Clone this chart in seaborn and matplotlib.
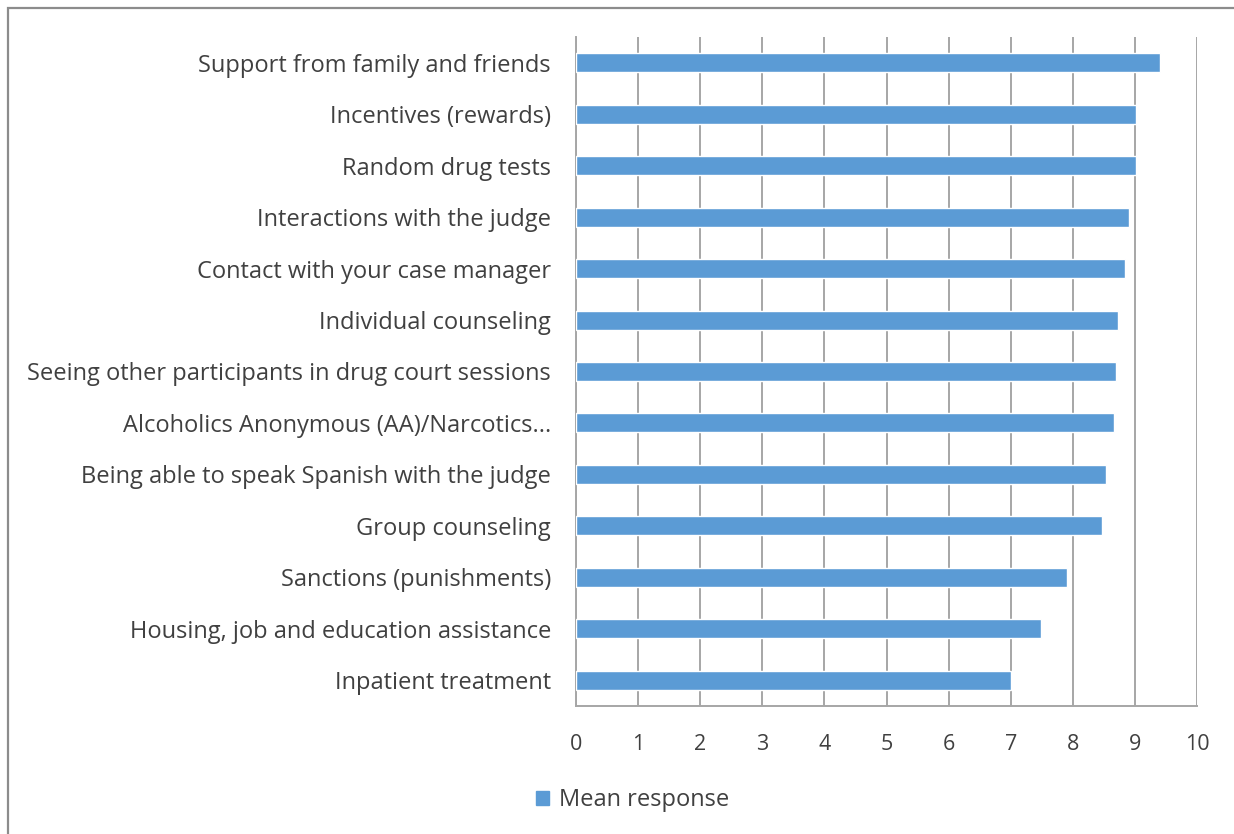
import matplotlib
matplotlib.use("Agg")
import matplotlib.pyplot as plt
import matplotlib.patches as mpatches
import numpy as np
import pandas as pd
import seaborn as sns

# Data
factors = [
    "Support from family and friends",
    "Incentives (rewards)",
    "Random drug tests",
    "Interactions with the judge",
    "Contact with your case manager",
    "Individual counseling",
    "Seeing other participants in drug court sessions",
    "Alcoholics Anonymous (AA)/Narcotics...",
    "Being able to speak Spanish with the judge",
    "Group counseling",
    "Sanctions (punishments)",
    "Housing, job and education assistance",
    "Inpatient treatment",
]
mean_response = [9.40, 9.02, 9.01, 8.90, 8.84, 8.73, 8.70, 8.67, 8.53, 8.47, 7.91, 7.48, 7.00]
x_ticks = list(range(0, 11))

df = pd.DataFrame({"Factor": factors, "Mean response": mean_response})

sns.set_style("white")
plt.rcParams["font.family"] = ["Open Sans", "DejaVu Sans"]

bar_color = "#5B9BD5"
text_color = "#404040"
grid_color = "#A6A6A6"

fig = plt.figure(figsize=(12.34, 8.34), dpi=100)
ax = fig.add_axes([576 / 1234, 1 - 706 / 834, 621 / 1234, 669 / 834])

sns.barplot(data=df, x="Mean response", y="Factor", color=bar_color,
            width=0.37, ax=ax, zorder=3, saturation=1)

ax.set_xlim(0, 10)
ax.set_ylim(len(factors) - 0.5, -0.5)
ax.set_xticks(x_ticks)
ax.set_xlabel("")
ax.set_ylabel("")

# vertical gridlines
ax.xaxis.grid(True, color=grid_color, linewidth=1.4, zorder=0)
ax.set_axisbelow(True)

for side in ["top", "right"]:
    ax.spines[side].set_visible(False)
for side in ["left", "bottom"]:
    ax.spines[side].set_color(grid_color)
    ax.spines[side].set_linewidth(1.4)

# y ticks: labels at bar centres, tick marks at category boundaries
ax.set_yticks(np.arange(len(factors)))
ax.set_yticklabels(factors)
ax.set_yticks(np.arange(-0.5, len(factors), 1), minor=True)
ax.tick_params(axis="y", which="major", length=0, pad=18,
               labelsize=17, labelcolor=text_color)
ax.tick_params(axis="y", which="minor", length=6, width=1.2,
               color=grid_color, direction="out")
ax.tick_params(axis="x", length=6, width=1.2, color=grid_color,
               direction="out", pad=14, labelsize=15.5, labelcolor=text_color)

# legend at the bottom
handle = mpatches.Patch(color=bar_color, label="Mean response")
fig.legend(handles=[handle], loc="center left",
           bbox_to_anchor=(515 / 1234, 1 - 800 / 834), frameon=False,
           handlelength=0.55, handleheight=0.55, handletextpad=0.4,
           prop={"size": 17}, labelcolor=text_color)

# outer chart border (top and left visible in the reference)
border = mpatches.Rectangle((8 / 1234, -0.05), 1.1, 1 - 8 / 834 + 0.05,
                            transform=fig.transFigure, fill=False,
                            edgecolor="#8C8C8C", linewidth=1.6)
fig.patches.append(border)

fig.savefig("out.png", dpi=100)
